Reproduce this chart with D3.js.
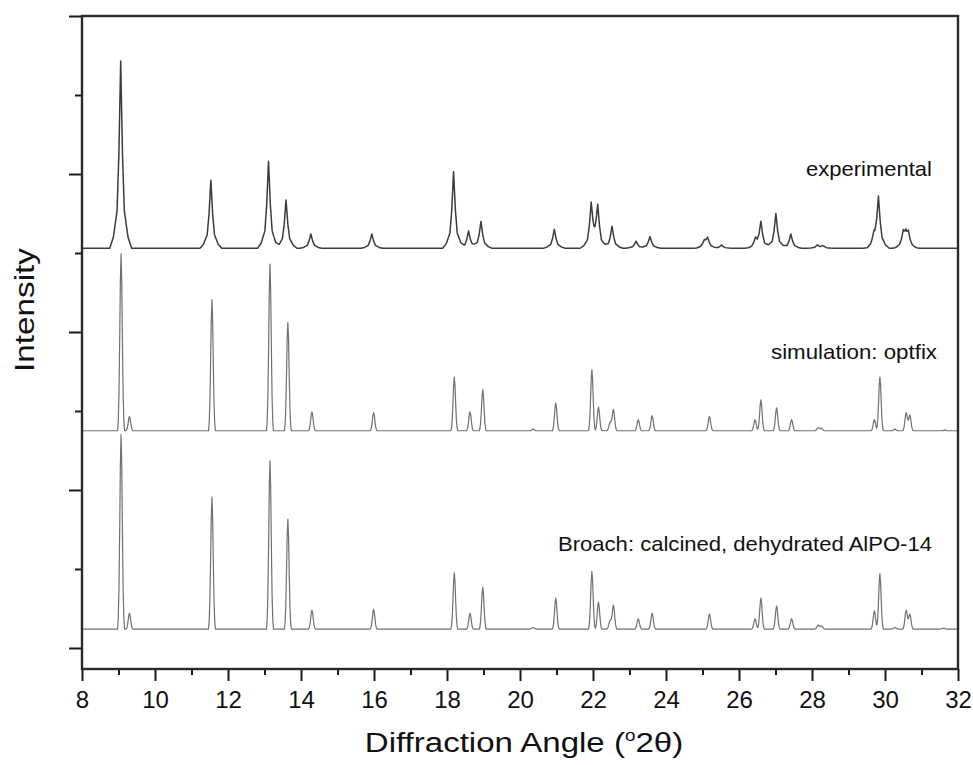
<!DOCTYPE html>
<html>
<head>
<meta charset="utf-8">
<script src="https://cdn.jsdelivr.net/npm/d3@7"></script>
<style>
  body { margin: 0; background: #fff; }
  text { font-family: Arial, "Liberation Sans", sans-serif; fill: #111; }
</style>
</head>
<body>
<div id="chart"></div>
<script>
// peak tables: angle (deg 2theta), height above baseline (intensity units)
var expAngle  = [9.06, 11.53, 13.11, 13.59, 14.27, 15.94, 18.18, 18.59, 18.93, 20.94, 21.95, 22.13, 22.52, 23.18, 23.56, 25.05, 25.14, 25.52, 26.45, 26.60, 27.01, 27.42, 28.15, 28.30, 29.70, 29.82, 30.50, 30.57, 30.64];
var expHeight = [2.37, 0.86, 1.10, 0.61, 0.18, 0.18, 0.97, 0.22, 0.34, 0.24, 0.54, 0.51, 0.28, 0.09, 0.15, 0.08, 0.12, 0.04, 0.10, 0.33, 0.44, 0.18, 0.04, 0.03, 0.12, 0.64, 0.17, 0.12, 0.16];

var simAngle  = [9.07, 9.30, 11.56, 13.15, 13.64, 14.30, 15.99, 18.20, 18.63, 18.98, 20.36, 20.98, 21.97, 22.15, 22.47, 22.56, 23.24, 23.62, 25.19, 26.44, 26.60, 27.03, 27.44, 28.17, 28.26, 29.71, 29.86, 30.27, 30.58, 30.68, 31.64];
var simHeight = [2.24, 0.18, 1.66, 2.11, 1.37, 0.24, 0.23, 0.68, 0.24, 0.52, 0.02, 0.35, 0.77, 0.30, 0.11, 0.27, 0.14, 0.19, 0.18, 0.14, 0.39, 0.29, 0.14, 0.04, 0.03, 0.14, 0.68, 0.02, 0.23, 0.20, 0.01];

var broAngle  = [9.07, 9.30, 11.56, 13.15, 13.64, 14.30, 15.99, 18.20, 18.63, 18.98, 20.36, 20.98, 21.97, 22.15, 22.47, 22.56, 23.24, 23.62, 25.19, 26.44, 26.60, 27.03, 27.44, 28.17, 28.26, 29.71, 29.86, 30.27, 30.58, 30.68, 31.60];
var broHeight = [2.46, 0.20, 1.67, 2.13, 1.39, 0.24, 0.25, 0.71, 0.20, 0.53, 0.02, 0.39, 0.73, 0.34, 0.11, 0.30, 0.13, 0.20, 0.19, 0.13, 0.39, 0.29, 0.13, 0.05, 0.04, 0.23, 0.70, 0.02, 0.24, 0.19, 0.01];

var baselines = [5.06, 2.75, 0.24];
var seriesNames = ['experimental', 'simulation: optfix', 'Broach: calcined, dehydrated AlPO-14'];

var xTicks = d3.range(8, 33, 2);
var xMinorTicks = d3.range(9, 32, 2);
var yTicks = [0, 2, 4, 6, 8];
var yMinorTicks = [1, 3, 5, 7];

var width = 973, height = 765;
var margin = {left: 82, right: 15, top: 16, bottom: 96};

var x = d3.scaleLinear().domain([8, 32]).range([margin.left, width - margin.right]);
var y = d3.scaleLinear().domain([-0.266, 8]).range([height - margin.bottom, margin.top]);

// peak shape templates: offsets in half-widths, fraction of peak height
var lorentzShape = {off: [-6, -4, -2, -1, 0, 1, 2, 4, 6], frac: [0, 0.06, 0.2, 0.5, 1, 0.5, 0.2, 0.06, 0]};
var gaussShape = {off: [-2.5, -2, -1.5, -1, -0.5, 0, 0.5, 1, 1.5, 2, 2.5], frac: [0, 0.06, 0.21, 0.5, 0.84, 1, 0.84, 0.5, 0.21, 0.06, 0]};

function buildProfile(angles, heights, base, hw, shape) {
  var xs = [8, 32];
  angles.forEach(function(a) {
    shape.off.forEach(function(o) { xs.push(a + o * hw); });
  });
  xs = xs.filter(function(v) { return v >= 8 && v <= 32; }).sort(d3.ascending);
  return xs.map(function(xv) {
    var sum = base;
    angles.forEach(function(a, i) {
      var u = (xv - a) / hw;
      if (u <= shape.off[0] || u >= shape.off[shape.off.length - 1]) return;
      var j = d3.bisectRight(shape.off, u) - 1;
      var t = (u - shape.off[j]) / (shape.off[j + 1] - shape.off[j]);
      sum += heights[i] * (shape.frac[j] + t * (shape.frac[j + 1] - shape.frac[j]));
    });
    return [xv, sum];
  });
}

var svg = d3.select('#chart').append('svg')
            .attr('width', width)
            .attr('height', height);

var lineFunc = d3.line()
                 .x(function(d) { return x(d[0]); })
                 .y(function(d) { return y(d[1]); });

var series = [
  {data: buildProfile(expAngle, expHeight, baselines[0], 0.05, lorentzShape), color: '#3c3c3c', w: 1.5},
  {data: buildProfile(simAngle, simHeight, baselines[1], 0.038, gaussShape), color: '#707070', w: 1.2},
  {data: buildProfile(broAngle, broHeight, baselines[2], 0.038, gaussShape), color: '#707070', w: 1.2}
];

svg.append('g').attr('class', 'linesWrapper')
   .selectAll('path')
   .data(series)
   .enter()
   .append('path')
   .attr('d', function(d) { return lineFunc(d.data); })
   .attr('fill', 'none')
   .attr('stroke', function(d) { return d.color; })
   .attr('stroke-width', function(d) { return d.w; })
   .attr('stroke-linejoin', 'round');

// axes
var xAxis = d3.axisBottom(x).tickValues(xTicks).tickSize(12).tickPadding(10).tickFormat(d3.format('d'));
var xAxisMinor = d3.axisBottom(x).tickValues(xMinorTicks).tickSize(6).tickFormat('');
var yAxis = d3.axisLeft(y).tickValues(yTicks).tickSize(13).tickFormat('');
var yAxisMinor = d3.axisLeft(y).tickValues(yMinorTicks).tickSize(7).tickFormat('');

var bottom = height - margin.bottom;

svg.append('g').attr('class', 'xaxisWrapper')
   .attr('transform', 'translate(0,' + bottom + ')')
   .call(xAxis);
svg.append('g').attr('class', 'xaxisMinorWrapper')
   .attr('transform', 'translate(0,' + bottom + ')')
   .call(xAxisMinor);
svg.append('g').attr('class', 'yaxisWrapper')
   .attr('transform', 'translate(' + margin.left + ',0)')
   .call(yAxis);
svg.append('g').attr('class', 'yaxisMinorWrapper')
   .attr('transform', 'translate(' + margin.left + ',0)')
   .call(yAxisMinor);

svg.selectAll('.domain').remove();
svg.selectAll('.tick line').attr('stroke', '#1a1a1a').attr('stroke-width', 2);
svg.selectAll('.xaxisWrapper .tick text')
   .attr('font-size', 24)
   .attr('font-family', 'Arial, "Liberation Sans", sans-serif')
   .attr('fill', '#111');

// frame
svg.append('rect')
   .attr('x', margin.left)
   .attr('y', margin.top)
   .attr('width', width - margin.right - margin.left)
   .attr('height', bottom - margin.top)
   .attr('fill', 'none')
   .attr('stroke', '#2a2a2a')
   .attr('stroke-width', 2.4);

// series labels
var labelPos = [{x: 932, y: 176, len: 126}, {x: 937, y: 359, len: 166}, {x: 932, y: 551, len: 374}];
svg.append('g').selectAll('text')
   .data(seriesNames)
   .enter()
   .append('text')
   .attr('x', function(d, i) { return labelPos[i].x; })
   .attr('y', function(d, i) { return labelPos[i].y; })
   .attr('text-anchor', 'end')
   .attr('font-size', 21)
   .attr('textLength', function(d, i) { return labelPos[i].len; })
   .attr('lengthAdjust', 'spacingAndGlyphs')
   .text(function(d) { return d; });

// axis titles
svg.append('text')
   .attr('transform', 'translate(34,310) rotate(-90)')
   .attr('text-anchor', 'middle')
   .attr('font-size', 27)
   .attr('textLength', 124)
   .attr('lengthAdjust', 'spacingAndGlyphs')
   .text('Intensity');

var title = svg.append('text')
   .attr('transform', 'translate(524,752) scale(1.18,1)')
   .attr('text-anchor', 'middle')
   .attr('font-size', 28);
title.append('tspan').text('Diffraction Angle (');
title.append('tspan').attr('font-size', 16).attr('dy', -11).text('o');
title.append('tspan').attr('dy', 11).text('2θ)');
</script>
</body>
</html>
